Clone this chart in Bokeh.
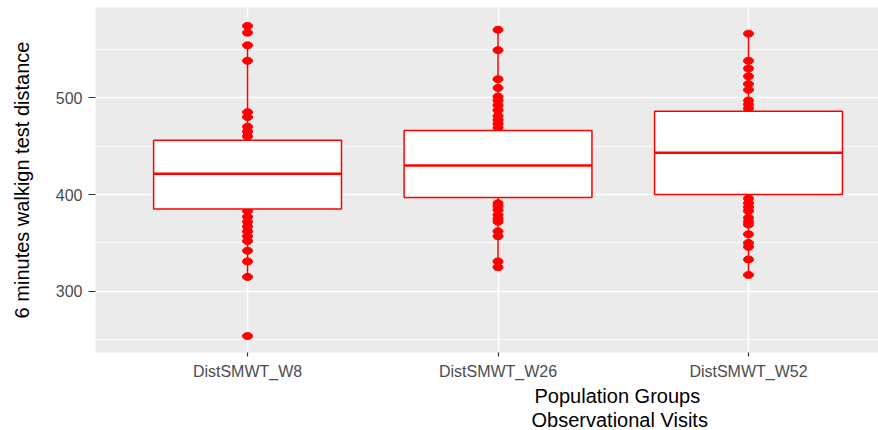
from bokeh.plotting import figure
from bokeh.models import FixedTicker, Range1d, Title, ColumnDataSource
from bokeh.embed import file_html
from bokeh.resources import INLINE

categories = ["DistSMWT_W8", "DistSMWT_W26", "DistSMWT_W52"]

# visible observations (outside the boxes) per visit
obs_w8 = [574, 567, 554, 538, 485, 480, 470, 465, 460,
          383, 377, 372, 367, 362, 357, 352, 342, 331, 315, 254]
obs_w26 = [570, 549, 519, 510, 501, 497, 492, 487, 481, 477, 473, 469,
           391, 388, 384, 379, 375, 372, 362, 357, 331, 325]
obs_w52 = [566, 538, 530, 522, 514, 508, 497, 493, 489,
           396, 391, 387, 383, 376, 372, 369, 359, 350, 346, 333, 317]

# box statistics
q1 = [385, 397, 400]
median = [421.5, 430, 443]
q3 = [456, 466, 486]
whisker_lo = [315, 325, 317]
whisker_hi = [554, 570, 566]

y_ticks = [300, 400, 500]
y_minor = [250, 350, 450, 550]

x_title_lines = ["Population Groups", "Observational Visits"]

RED = "#FF0000"
FONT = "Liberation Sans"
BOX_W = 0.75

pos = [i + 1 for i in range(len(categories))]

p = figure(width=878, height=430, output_backend="svg", toolbar_location=None,
           x_range=Range1d(0.393, 3.519), y_range=Range1d(237, 593),
           min_border_left=95, min_border_right=0, min_border_top=7,
           min_border_bottom=78)
p.title.visible = False
p.background_fill_color = "#EBEBEB"
p.border_fill_color = "white"
p.outline_line_color = None

# grids
p.xgrid.ticker = FixedTicker(ticks=pos)
p.xgrid.grid_line_color = "white"
p.xgrid.grid_line_width = 1.6
p.ygrid.ticker = FixedTicker(ticks=y_ticks, minor_ticks=y_minor)
p.ygrid.grid_line_color = "white"
p.ygrid.grid_line_width = 1.6
p.ygrid.minor_grid_line_color = "white"
p.ygrid.minor_grid_line_width = 0.8

# axes
p.xaxis.ticker = FixedTicker(ticks=pos)
p.xaxis.major_label_overrides = {k: c for k, c in zip(pos, categories)}
p.yaxis.ticker = FixedTicker(ticks=y_ticks)
for ax in (p.xaxis[0], p.yaxis[0]):
    ax.axis_line_color = None
    ax.major_tick_line_color = "#333333"
    ax.major_tick_line_width = 1.2
    ax.major_tick_in = 0
    ax.minor_tick_line_color = None
    ax.major_label_text_color = "#4D4D4D"
    ax.major_label_text_font = FONT
    ax.major_label_text_font_size = "16px"
p.xaxis.major_tick_out = 4
p.xaxis.major_label_standoff = 6
p.yaxis.major_tick_out = 7
p.yaxis.major_label_standoff = 6
p.yaxis.axis_label = "6 minutes walkign test distance"
p.yaxis.axis_label_text_font = FONT
p.yaxis.axis_label_text_font_size = "20px"
p.yaxis.axis_label_text_font_style = "normal"
p.yaxis.axis_label_text_color = "black"
p.yaxis.axis_label_standoff = 20

# points
px, py = [], []
for k, obs in zip(pos, [obs_w8, obs_w26, obs_w52]):
    px += [k] * len(obs)
    py += obs
p.ellipse(x=px, y=py, width=10, height=7, width_units="screen",
          height_units="screen", fill_color=RED, line_color=RED)

# whiskers
p.segment(x0=pos, y0=q3, x1=pos, y1=whisker_hi, line_color=RED, line_width=1.5)
p.segment(x0=pos, y0=q1, x1=pos, y1=whisker_lo, line_color=RED, line_width=1.5)

# boxes
src = ColumnDataSource(dict(x=pos, q1=q1, q3=q3))
p.vbar(x="x", width=BOX_W, bottom="q1", top="q3", source=src,
       fill_color="white", line_color=RED, line_width=1.5)
p.segment(x0=[k - BOX_W / 2 for k in pos], y0=median,
          x1=[k + BOX_W / 2 for k in pos], y1=median,
          line_color=RED, line_width=2.5)

# x axis title (two lines), centred near x = 622 px
for txt, off in zip(x_title_lines, [439, 436]):
    p.add_layout(Title(text=txt, align="left", offset=off, standoff=0,
                       text_font=FONT, text_font_size="20px",
                       text_font_style="normal", text_color="black"), "below")

open("out.html", "w").write(file_html(p, INLINE))
